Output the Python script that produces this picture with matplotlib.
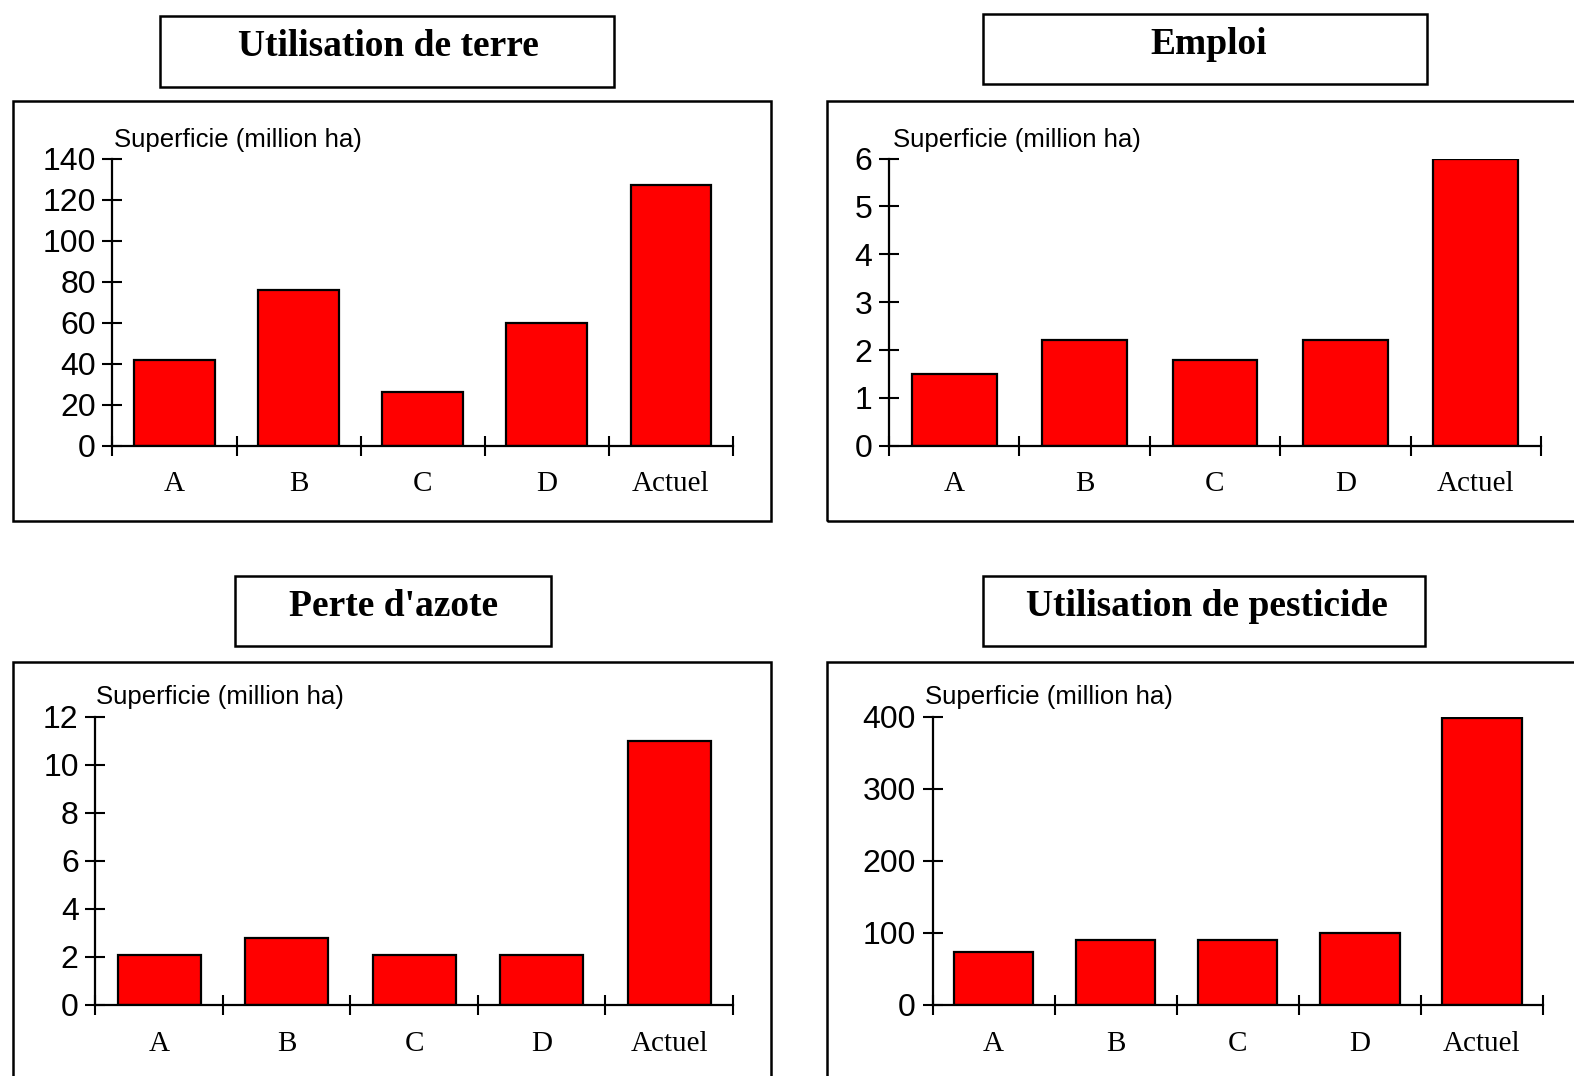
import numpy as np
import matplotlib
matplotlib.use("Agg")
import matplotlib.pyplot as plt
from matplotlib.patches import Rectangle

# ---- data ----
categories = ["A", "B", "C", "D", "Actuel"]
land_use = [42, 76, 26, 60, 127]
employment = [1.5, 2.2, 1.8, 2.2, 6.0]
nitrogen_loss = [2.1, 2.8, 2.1, 2.1, 11.0]
pesticide_use = [73, 90, 90, 100, 398]

titles = ["Utilisation de terre", "Emploi", "Perte d'azote", "Utilisation de pesticide"]
y_label = "Superficie (million ha)"
ticks_land = [0, 20, 40, 60, 80, 100, 120, 140]
ticks_employment = [0, 1, 2, 3, 4, 5, 6]
ticks_nitrogen = [0, 2, 4, 6, 8, 10, 12]
ticks_pesticide = [0, 100, 200, 300, 400]

# ---- layout (pixels) ----
W, H = 1574, 1076
fig = plt.figure(figsize=(W / 100, H / 100), dpi=100)
fig.patch.set_facecolor("white")


def fx(x):
    return x / W


def fy(y):
    return 1 - y / H


def px_rect(x0, y0, x1, y1, lw=1.8):
    r = Rectangle((fx(x0), fy(y1)), (x1 - x0) / W, (y1 - y0) / H,
                  transform=fig.transFigure, fill=False, edgecolor="black",
                  linewidth=lw)
    fig.add_artist(r)


panels = [
    dict(values=land_use, ticks=ticks_land, title=titles[0],
         axes=(112.4, 158.6, 733, 445.7), frame=(13, 101.4, 771, 521),
         tbox=(159.6, 16, 614.3, 87.3), tpos=(388.5, 47), lab=(114.4, 139.5)),
    dict(values=employment, ticks=ticks_employment, title=titles[1],
         axes=(889, 158.6, 1541, 445.7), frame=(827, 101.4, 1600, 521),
         tbox=(982.7, 14, 1427.4, 84.3), tpos=(1208.6, 45), lab=(893.4, 139.5)),
    dict(values=nitrogen_loss, ticks=ticks_nitrogen, title=titles[2],
         axes=(95.4, 716.7, 733, 1005), frame=(13, 661.5, 771, 1100),
         tbox=(235, 576, 551, 646.4), tpos=(393.5, 606), lab=(96.4, 696.6)),
    dict(values=pesticide_use, ticks=ticks_pesticide, title=titles[3],
         axes=(932.5, 716.7, 1543, 1005), frame=(827, 661.5, 1600, 1100),
         tbox=(982.7, 576, 1425.4, 646.4), tpos=(1206.6, 606), lab=(925.5, 696.6)),
]

x = np.arange(len(categories))

for p in panels:
    # outer frame and title box
    px_rect(*p["frame"])
    px_rect(*p["tbox"])
    fig.text(fx(p["tpos"][0]), fy(p["tpos"][1]), p["title"],
             ha="center", va="center", fontsize=27, fontweight="bold",
             family="Liberation Serif")

    x0, y0, x1, y1 = p["axes"]
    ax = fig.add_axes([fx(x0), fy(y1), (x1 - x0) / W, (y1 - y0) / H])
    ax.patch.set_visible(False)
    ax.bar(x, p["values"], width=0.65, color="#ff0000", edgecolor="black",
           linewidth=1.6, zorder=2)
    ax.set_xlim(-0.5, len(categories) - 0.5)
    ax.set_ylim(0, p["ticks"][-1])

    for s in ("top", "right"):
        ax.spines[s].set_visible(False)
    for s in ("left", "bottom"):
        ax.spines[s].set_linewidth(1.6)

    ax.set_yticks(p["ticks"])
    ax.set_yticklabels([str(t) for t in p["ticks"]], family="Liberation Sans",
                       fontsize=23)
    ax.tick_params(axis="y", direction="inout", length=14, width=1.5, pad=5)

    # category boundaries as major ticks, labels centred on minor ticks
    ax.set_xticks(np.arange(-0.5, len(categories), 1.0))
    ax.set_xticklabels([])
    ax.tick_params(axis="x", which="major", direction="inout", length=14,
                   width=1.5)
    ax.set_xticks(x, minor=True)
    ax.set_xticklabels(categories, minor=True, family="Liberation Serif",
                       fontsize=21)
    ax.tick_params(axis="x", which="minor", length=0, pad=18.5)

    fig.text(fx(p["lab"][0]), fy(p["lab"][1]), y_label, ha="left",
             va="center", fontsize=18.5, family="Liberation Sans")

fig.savefig("out.png", dpi=100, facecolor="white")
